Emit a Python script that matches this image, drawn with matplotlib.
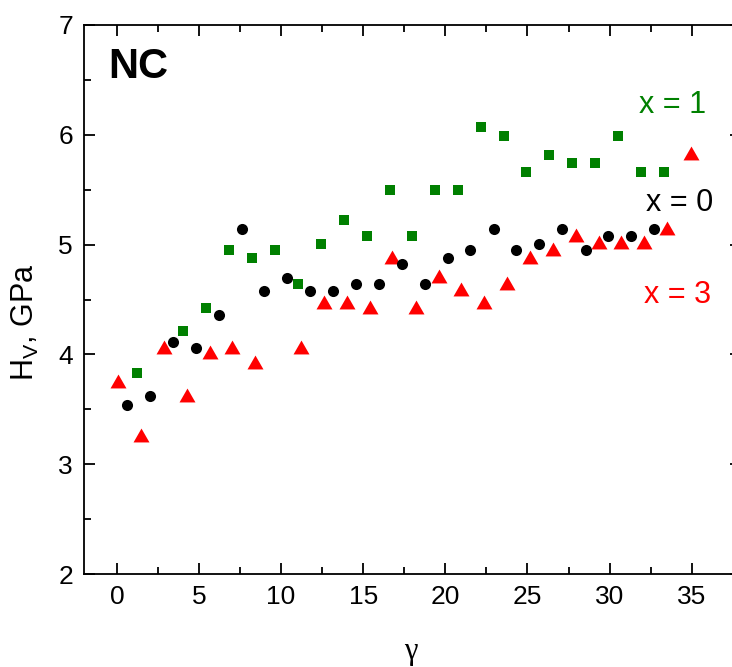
import matplotlib
matplotlib.use("Agg")
import matplotlib.pyplot as plt
from matplotlib.ticker import MultipleLocator

plt.rcParams['font.family'] = ['Liberation Sans', 'DejaVu Sans']

# x = 1 (green squares)
gamma_x1 = [1.25, 4.02, 5.42, 6.82, 8.21, 9.61, 11.01, 12.4, 13.8, 15.2, 16.6, 17.97,
            19.37, 20.77, 22.16, 23.56, 24.93, 26.33, 27.7, 29.12, 30.5, 31.9, 33.3]
hv_x1 = [3.83, 4.21, 4.42, 4.95, 4.88, 4.95, 4.64, 5.01, 5.22, 5.08, 5.5, 5.08,
         5.5, 5.5, 6.07, 5.99, 5.66, 5.82, 5.74, 5.74, 5.99, 5.66, 5.66]

# x = 0 (black circles)
gamma_x0 = [0.64, 2.02, 3.42, 4.8, 6.19, 7.59, 8.98, 10.38, 11.78, 13.18, 14.57, 15.97,
            17.37, 18.74, 20.16, 21.53, 22.95, 24.32, 25.72, 27.12, 28.54, 29.89, 31.3, 32.68]
hv_x0 = [3.54, 3.62, 4.11, 4.06, 4.36, 5.14, 4.58, 4.70, 4.58, 4.58, 4.64, 4.64,
         4.82, 4.64, 4.88, 4.95, 5.14, 4.95, 5.01, 5.14, 4.95, 5.08, 5.08, 5.14]

# x = 3 (red triangles)
gamma_x3 = [0.06, 1.46, 2.85, 4.25, 5.65, 7.04, 8.44, 11.23, 12.63, 14.0, 15.42, 16.76,
            18.21, 19.59, 20.97, 22.38, 23.76, 25.17, 26.55, 27.95, 29.34, 30.7, 32.12,
            33.52, 34.93]
hv_x3 = [3.76, 3.27, 4.07, 3.63, 4.02, 4.07, 3.93, 4.07, 4.48, 4.48, 4.43, 4.89,
         4.43, 4.71, 4.6, 4.48, 4.65, 4.89, 4.96, 5.09, 5.02, 5.02, 5.02,
         5.15, 5.83]

x_ticks = [0, 5, 10, 15, 20, 25, 30, 35]
y_ticks = [2, 3, 4, 5, 6, 7]

W, H = 732, 667
fig = plt.figure(figsize=(W / 100, H / 100), dpi=100)
ax = fig.add_axes([84 / W, (H - 574) / H, 657 / W, 549 / H])

tri = [(-1, -0.87), (1, -0.87), (0, 0.87)]
ax.plot(gamma_x1, hv_x1, ls='none', marker='s', ms=7.3, color='#008000', mew=0, zorder=3)
ax.plot(gamma_x3, hv_x3, ls='none', marker=tri, ms=11.5, color='#ff0000', mew=0, zorder=4)
ax.plot(gamma_x0, hv_x0, ls='none', marker='o', ms=8, color='black', mew=0, zorder=5)

ax.set_xlim(-2, 38)
ax.set_ylim(2, 7)
ax.set_xticks(x_ticks)
ax.set_yticks(y_ticks)
ax.xaxis.set_minor_locator(MultipleLocator(2.5))
ax.yaxis.set_minor_locator(MultipleLocator(0.5))
ax.tick_params(which='both', direction='in', top=True, right=True, width=1.3,
               labelsize=19, pad=8)
ax.tick_params(which='major', length=8)
ax.tick_params(which='minor', length=5)
for s in ax.spines.values():
    s.set_linewidth(1.3)

fig.text(411 / W, 1 - 652 / H, 'γ', family=['Liberation Serif', 'DejaVu Serif'],
         fontsize=22, ha='center', va='center')
fig.text(25 / W, 1 - 322 / H, 'H$_\\mathregular{V}$, GPa', fontsize=22,
         rotation=90, ha='center', va='center')

fig.text(108 / W, 1 - 67 / H, 'NC', fontsize=30,
         fontweight='bold', ha='left', va='center')
fig.text(673 / W, 1 - 105 / H, 'x = 1', fontsize=22,
         color='#008000', ha='center', va='center')
fig.text(680 / W, 1 - 203 / H, 'x = 0', fontsize=22,
         color='black', ha='center', va='center')
fig.text(678 / W, 1 - 295 / H, 'x = 3', fontsize=22,
         color='#ff0000', ha='center', va='center')

fig.savefig('out.png', dpi=100)
